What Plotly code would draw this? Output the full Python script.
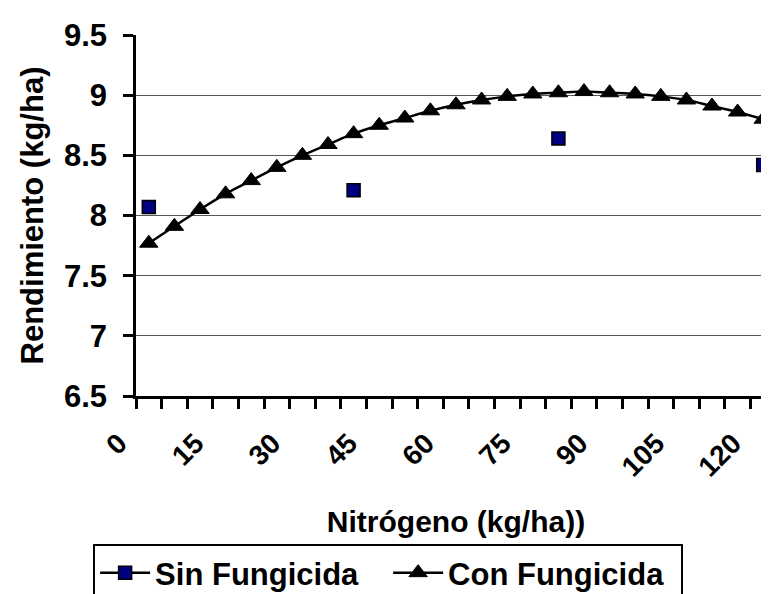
import plotly.graph_objects as go

nitrogeno = [0, 5, 10, 15, 20, 25, 30, 35, 40, 45, 50, 55, 60,
             65, 70, 75, 80, 85, 90, 95, 100, 105, 110, 115, 120]
con_fungicida = [7.77, 7.91, 8.05, 8.18, 8.29, 8.40, 8.50, 8.59, 8.68, 8.75,
                 8.81, 8.87, 8.92, 8.96, 8.99, 9.01, 9.02, 9.03, 9.02, 9.01,
                 8.99, 8.96, 8.91, 8.86, 8.80]
sin_fungicida = [8.07, None, None, None, None, None, None, None, 8.21, None,
                 None, None, None, None, None, None, 8.64, None, None, None,
                 None, None, None, None, 8.42]
x_ticks = [0, 15, 30, 45, 60, 75, 90, 105, 120]
x_ticktext = ["0", "15", "30", "45", "60", "75", "90", "105", "120"]
y_ticks = [6.5, 7, 7.5, 8, 8.5, 9, 9.5]
y_ticktext = ["6.5", "7", "7.5", "8", "8.5", "9", "9.5"]

FONT = "Liberation Sans, Arial, sans-serif"

fig = go.Figure()
fig.add_trace(go.Scatter(
    x=nitrogeno, y=sin_fungicida, name="Sin Fungicida",
    mode="lines+markers", connectgaps=False,
    line=dict(color="black", width=2.5),
    marker=dict(symbol="square", size=13, color="#000080",
                line=dict(color="black", width=1.5)),
))
fig.add_trace(go.Scatter(
    x=nitrogeno, y=con_fungicida, name="Con Fungicida",
    mode="lines+markers",
    line=dict(color="black", width=2.5, shape="spline"),
    marker=dict(symbol="triangle-up", size=16, color="black",
                line=dict(color="black", width=1)),
))

fig.update_layout(
    width=769, height=594,
    margin=dict(l=128, r=1, t=27, b=206, autoexpand=False),
    paper_bgcolor="white", plot_bgcolor="white",
    font=dict(family=FONT, size=30, color="black", weight="bold"),
    showlegend=True,
    legend=dict(
        orientation="h", x=-0.067, xanchor="left",
        y=-0.41, yanchor="top",
        bordercolor="black", borderwidth=2, bgcolor="white",
        font=dict(family=FONT, size=31, color="black", weight="bold"),
        itemwidth=50, entrywidth=228, entrywidthmode="pixels",
        tracegroupgap=0,
    ),
    xaxis=dict(
        range=[-2.5, 122.5], tickmode="array", tickvals=x_ticks,
        ticktext=x_ticktext, ticks="", tickangle=-45,
        tickfont=dict(family=FONT, size=28, weight="bold"),
        ticklabelstandoff=17, ticklabelshift=-30,
        showline=True, linecolor="black", linewidth=2.5,
        showgrid=False, zeroline=False,
        minor=dict(tick0=-2.5, dtick=5, ticks="outside", ticklen=10,
                   tickwidth=2.5, tickcolor="black", showgrid=False),
        title=dict(text="Nitrógeno (kg/ha))", standoff=30,
                   font=dict(family=FONT, size=30, weight="bold")),
    ),
    yaxis=dict(
        range=[6.5, 9.5], tickmode="array", tickvals=y_ticks,
        ticktext=y_ticktext, ticks="outside", ticklen=10, tickwidth=2.5,
        tickcolor="black",
        tickfont=dict(family=FONT, size=31, weight="bold"),
        ticklabelstandoff=10,
        showline=True, linecolor="black", linewidth=2.5,
        showgrid=True, gridcolor="#555555", gridwidth=1, zeroline=False,
        title=dict(text="Rendimiento (kg/ha)", standoff=12,
                   font=dict(family=FONT, size=31, weight="bold")),
    ),
)

fig.write_html("out.html")
